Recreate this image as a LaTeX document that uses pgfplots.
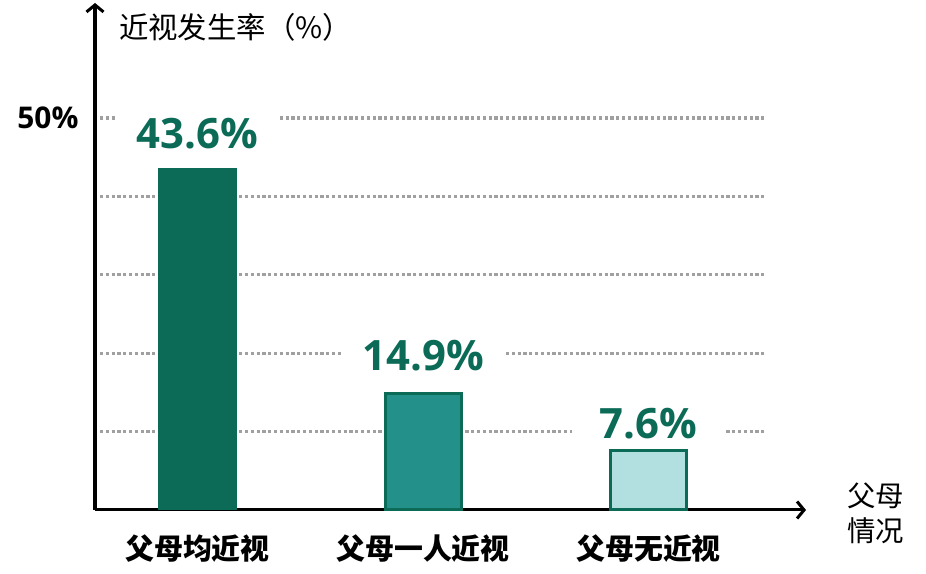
\documentclass[border=0pt]{standalone}
\usepackage{pgfplots}
\pgfplotsset{compat=1.18}
\usepackage{fontspec}
\setmainfont{Noto Sans CJK SC}
\newfontfamily\numfont{Open Sans}
\usetikzlibrary{arrows.meta}
\definecolor{dk}{HTML}{0B6B56}
\definecolor{md}{HTML}{24908A}
\definecolor{lt}{HTML}{B2DFDF}
\definecolor{gr}{HTML}{A0A0A0}
\begin{document}
\begin{tikzpicture}
\useasboundingbox (0bp,0bp) rectangle (926bp,574bp);
\begin{axis}[
  at={(95bp,64bp)}, anchor=south west,
  scale only axis, width=711bp, height=507bp,
  xmin=-0.4545, xmax=2.698, ymin=0, ymax=64.67,
  axis x line=bottom, axis y line=left,
  axis line style={line width=3bp, -{Straight Barb[length=7bp,width=17bp]}},
  xtick={0,1,2}, xticklabels={父母均近视,父母一人近视,父母无近视},
  ytick={50}, yticklabels={\numfont\bfseries 50\%},
  major tick length=0,
  xticklabel style={font=\bfseries\fontsize{29}{29}\selectfont, yshift=-21bp},
  yticklabel style={font=\fontsize{30}{30}\selectfont, xshift=-13bp},
  clip=false,
]
\addplot[forget plot, gr, line width=3.2bp, dash pattern=on 3.2bp off 2.6bp] coordinates {(-0.432,10)(2.517,10)};
\addplot[forget plot, gr, line width=3.2bp, dash pattern=on 3.2bp off 2.6bp] coordinates {(-0.432,20)(2.517,20)};
\addplot[forget plot, gr, line width=3.2bp, dash pattern=on 3.2bp off 2.6bp] coordinates {(-0.432,30)(2.517,30)};
\addplot[forget plot, gr, line width=3.2bp, dash pattern=on 3.2bp off 2.6bp] coordinates {(-0.432,40)(2.517,40)};
\addplot[forget plot, gr, line width=3.2bp, dash pattern=on 3.2bp off 2.6bp] coordinates {(-0.432,50)(2.517,50)};
\addplot[ybar, bar shift=0pt, bar width=79bp, fill=dk, draw=none,
  nodes near coords={\numfont\bfseries 43.6\%},
  nodes near coords style={text=dk, font=\fontsize{42}{42}\selectfont, anchor=center, yshift=35bp, fill=white, inner xsep=20bp, inner ysep=2bp}]
  coordinates {(0,43.6)};
\addplot[ybar, bar shift=0pt, bar width=76bp, fill=md, draw=dk, line width=3bp,
  nodes near coords={\numfont\bfseries 14.9\%},
  nodes near coords style={text=dk, font=\fontsize{42}{42}\selectfont, anchor=center, yshift=38bp, fill=white, inner xsep=20bp, inner ysep=2bp}]
  coordinates {(1,14.9)};
\addplot[ybar, bar shift=0pt, bar width=76bp, fill=lt, draw=dk, line width=3bp,
  nodes near coords={\numfont\bfseries 7.6\%},
  nodes near coords style={text=dk, font=\fontsize{42}{42}\selectfont, anchor=center, yshift=27bp, fill=white, inner xsep=28bp, inner ysep=2bp}]
  coordinates {(2,7.6)};
\end{axis}
\node[anchor=west, font=\fontsize{29.5}{29.5}\selectfont, inner sep=0] at (119bp,547bp) {近视发生率（\%）};
\node[anchor=north west, align=left, font=\fontsize{28.5}{35}\selectfont, inner sep=0] at (847bp,91bp) {父母\\情况};
\end{tikzpicture}
\end{document}
